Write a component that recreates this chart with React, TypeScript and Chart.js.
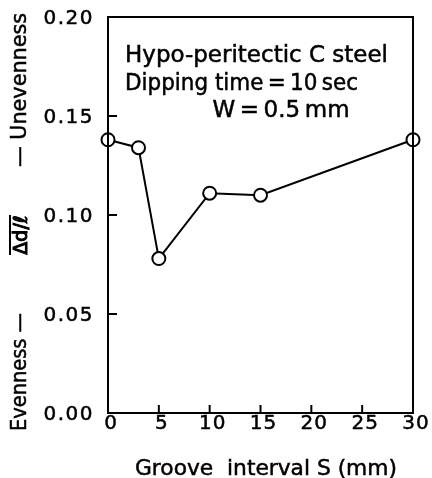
import React, { useEffect, useRef } from "react";
import { Chart, registerables } from "chart.js";

Chart.register(...registerables);

const grooveInterval = [0, 3, 5, 10, 15, 30];
const unevenness = [0.138, 0.134, 0.078, 0.111, 0.11, 0.138];
const xTicks = [0, 5, 10, 15, 20, 25, 30];
const yTicks = [0, 0.05, 0.1, 0.15, 0.2];
const annotationLines = [
  "Hypo-peritectic C steel",
  "Dipping time\u2009=\u200910\u2009sec",
  "W\u2009=\u20090.5\u2009mm",
];
const xTitle = "Groove  interval S (mm)";
const yTitleParts = ["Evenness —", "Δd/ℓ", "— Unevenness"];

const FONT = '"DejaVu Sans", sans-serif';

const framePlugin = {
  id: "frame",
  afterDraw(chart: any) {
    const { ctx, chartArea } = chart;
    const { left, right, top, bottom } = chartArea;
    const xs = chart.scales.x;
    const ys = chart.scales.y;
    const ls = (v: string) => ((ctx as any).letterSpacing = v);
    const txt = (s: string, x: number, y: number, mw?: number) => {
      if (mw) {
        ctx.fillText(s, x, y, mw);
        ctx.strokeText(s, x, y, mw);
      } else {
        ctx.fillText(s, x, y);
        ctx.strokeText(s, x, y);
      }
    };
    ctx.save();
    ctx.strokeStyle = "#000";
    ctx.fillStyle = "#000";
    ctx.lineWidth = 2;
    ctx.strokeRect(left, top, right - left, bottom - top);
    ctx.beginPath();
    xTicks.forEach((t) => {
      const px = xs.getPixelForValue(t);
      ctx.moveTo(px, bottom);
      ctx.lineTo(px, bottom - 8);
    });
    yTicks.forEach((t) => {
      const py = ys.getPixelForValue(t);
      ctx.moveTo(left, py);
      ctx.lineTo(left + 9, py);
    });
    ctx.stroke();

    ctx.lineWidth = 0.5;
    // tick labels
    ctx.textBaseline = "middle";
    ctx.font = `20px ${FONT}`;
    ctx.textAlign = "center";
    ls("1px");
    xTicks.forEach((t) => {
      const px = xs.getPixelForValue(t);
      txt(String(t), px + 3, bottom + 11);
    });
    ctx.textAlign = "right";
    ls("1.5px");
    yTicks.forEach((t) => {
      const py = ys.getPixelForValue(t);
      txt(t.toFixed(2), left - 14, py + 2);
    });

    // annotation
    ctx.textBaseline = "alphabetic";
    ctx.font = `23px ${FONT}`;
    ls("0px");
    ctx.textAlign = "left";
    txt(annotationLines[0], left + 17, top + 45, 263);
    txt(annotationLines[1], left + 17, top + 73, 233);
    ctx.textAlign = "center";
    txt(annotationLines[2], left + 173, top + 100, 152);

    // x title
    ctx.font = `22px ${FONT}`;
    ctx.textAlign = "center";
    txt(xTitle, 266, 475, 262);

    // rotated y title
    const tx = 26;
    ctx.font = `21px ${FONT}`;
    ctx.save();
    ctx.translate(tx, 431);
    ctx.rotate(-Math.PI / 2);
    ctx.textAlign = "left";
    txt(yTitleParts[0], 0, 0, 118);
    ctx.restore();

    ctx.save();
    ctx.translate(tx + 1, 235);
    ctx.rotate(-Math.PI / 2);
    ctx.textAlign = "center";
    ctx.font = `19px ${FONT}`;
    ctx.lineWidth = 1;
    txt(yTitleParts[1], 0, 0);
    ctx.beginPath();
    ctx.lineWidth = 2;
    ctx.moveTo(-20, -17);
    ctx.lineTo(20, -17);
    ctx.stroke();
    ctx.restore();

    ctx.save();
    ctx.translate(tx, 13);
    ctx.rotate(-Math.PI / 2);
    ctx.textAlign = "right";
    ctx.font = `21px ${FONT}`;
    txt(yTitleParts[2], 0, 0, 154);
    ctx.restore();

    ls("0px");
    ctx.restore();
  },
};

export default function App() {
  const ref = useRef<HTMLCanvasElement | null>(null);
  useEffect(() => {
    if (!ref.current) return;
    const chart = new Chart(ref.current, {
      type: "scatter",
      data: {
        datasets: [
          {
            data: grooveInterval.map((x, i) => ({ x, y: unevenness[i] })),
            showLine: true,
            borderColor: "#000",
            borderWidth: 2,
            pointRadius: 6.5,
            pointBorderWidth: 2,
            pointBackgroundColor: "#fff",
            pointBorderColor: "#000",
            clip: false,
          },
        ],
      },
      options: {
        responsive: false,
        animation: false,
        events: [],
        layout: { padding: { top: 17, right: 19, left: 0, bottom: 0 } },
        plugins: { legend: { display: false }, tooltip: { enabled: false } },
        scales: {
          x: {
            type: "linear",
            min: 0,
            max: 30,
            afterFit: (s: any) => {
              s.height = 65;
            },
            grid: { display: false, drawTicks: false },
            border: { display: false },
            ticks: { display: false },
          },
          y: {
            type: "linear",
            min: 0,
            max: 0.2,
            afterFit: (s: any) => {
              s.width = 108;
            },
            grid: { display: false, drawTicks: false },
            border: { display: false },
            ticks: { display: false },
          },
        },
      },
      plugins: [framePlugin],
    });
    return () => chart.destroy();
  }, []);
  return (
    <div style={{ position: "absolute", left: 0, top: 0, width: 432, height: 478, background: "#fff" }}>
      <canvas ref={ref} width={432} height={478} style={{ display: "block" }} />
    </div>
  );
}
